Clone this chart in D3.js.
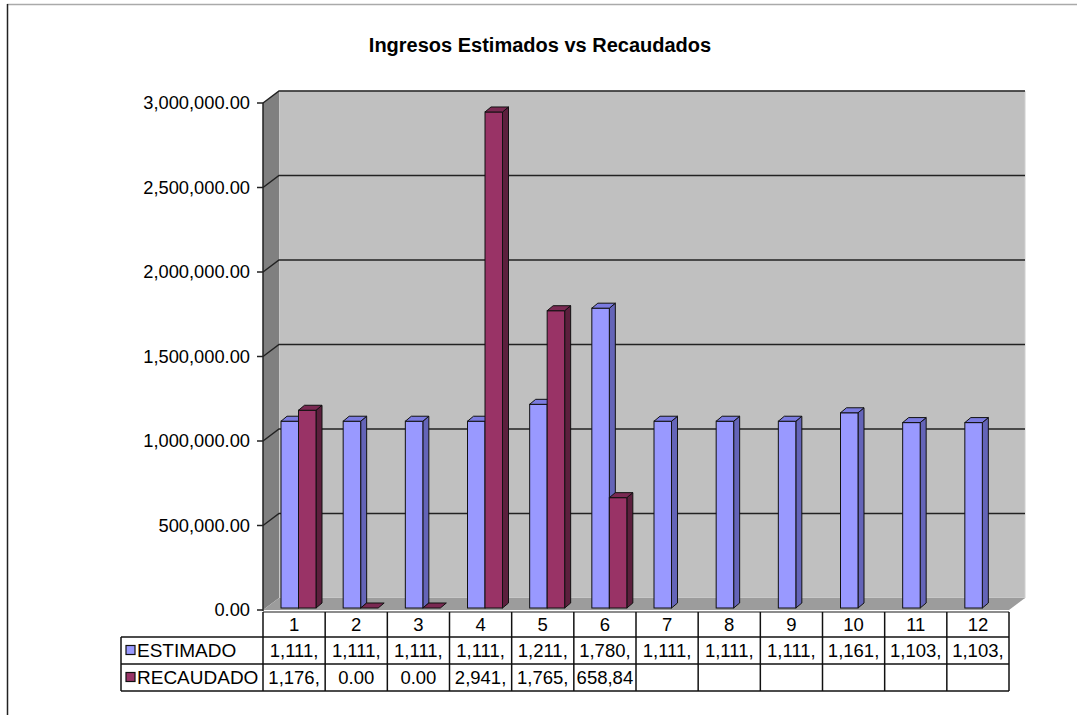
<!DOCTYPE html>
<html><head><meta charset="utf-8">
<script src="https://cdn.jsdelivr.net/npm/d3@7/dist/d3.min.js"></script>
<style>body{margin:0;background:#fff}svg{display:block;font-family:"Liberation Sans",Arial,sans-serif}</style>
</head><body><svg id="c" width="1077" height="715"></svg>
<script>
const title = "Ingresos Estimados vs Recaudados";
const categories = ["1","2","3","4","5","6","7","8","9","10","11","12"];
const seriesNames = ["ESTIMADO","RECAUDADO"];
const estimado = [1111111,1111111,1111111,1111111,1211111,1780000,1111111,1111111,1111111,1161111,1103000,1103000];
const recaudado = [1176000,0,0,2941000,1765000,658840,null,null,null,null,null,null];
const yTicks = [0,500000,1000000,1500000,2000000,2500000,3000000];
const frontColors = ["#9999FF","#993366"];
const topColors = ["#7b7be0","#7a2952"];
const sideColors = ["#6464b8","#5c1f3d"];

const svg = d3.select("#c");
const left = 263, right = 1009, y0 = 610, yTop = 103;
const DX = 16, DY = -12;     // wall depth
const bdx = 6, bdy = -5;     // bar depth
const x = d3.scaleBand().domain(categories).range([left, right]).paddingInner(0).paddingOuter(0);
const y = d3.scaleLinear().domain([0,3000000]).range([y0, yTop]);
const fmt = d3.format(",.2f");

// page border
svg.append("line").attr("x1",7).attr("x2",1077).attr("y1",4.5).attr("y2",4.5).attr("stroke","#aaa").attr("stroke-width",1.5);
svg.append("line").attr("x1",7.5).attr("x2",7.5).attr("y1",4).attr("y2",715).attr("stroke","#222").attr("stroke-width",1.5);

// title
svg.append("text").attr("x",540).attr("y",52).attr("text-anchor","middle")
  .attr("font-weight","bold").attr("font-size",20).text(title);

// walls
const pts = a => a.map(p=>p.join(",")).join(" ");
svg.append("polygon").attr("points", pts([[left+DX,y(3000000)+DY],[right+DX,y(3000000)+DY],[right+DX,y0+DY],[left+DX,y0+DY]]))
  .attr("fill","#c0c0c0").attr("stroke","#d0d0d0").attr("stroke-width",1);
svg.append("polygon").attr("points", pts([[left,y(3000000)],[left+DX,y(3000000)+DY],[left+DX,y0+DY],[left,y0]]))
  .attr("fill","#808080");
// gridlines
yTicks.filter(t=>t>0).forEach(t=>{
  const yy = y(t);
  svg.append("polyline").attr("points", pts([[left,yy],[left+DX,yy+DY],[right+DX,yy+DY]]))
    .attr("fill","none").attr("stroke","#222").attr("stroke-width",1.5);
});
// floor
svg.append("polygon").attr("points", pts([[left,y0],[left+DX,y0+DY],[right+DX,y0+DY],[right,y0]]))
  .attr("fill","#9c9c9c");

// axis
svg.append("line").attr("x1",left).attr("x2",left).attr("y1",y(3000000)).attr("y2",y0+1).attr("stroke","#222").attr("stroke-width",1.5);
yTicks.forEach(t=>{
  svg.append("line").attr("x1",left-6).attr("x2",left).attr("y1",y(t)).attr("y2",y(t)).attr("stroke","#222").attr("stroke-width",1.5);
  svg.append("text").attr("x",250).attr("y",y(t)).attr("dy","0.35em").attr("text-anchor","end")
    .attr("font-size",18.3).text(fmt(t));
});

// bars
const bw = x.bandwidth();
const barW = 17.5, barOff = 18;
const base = y0 - 2;
function bar(g, xl, v, s){
  const yt = v===0 ? base : Math.min(y(v) - 1, base);
  const xr = xl + barW;
  if (v > 0) {
    g.append("polygon").attr("points", pts([[xr,yt],[xr+bdx,yt+bdy],[xr+bdx,base+bdy],[xr,base]]))
      .attr("fill", sideColors[s]).attr("stroke","#111").attr("stroke-width",1);
    g.append("rect").attr("x",xl).attr("y",yt).attr("width",barW).attr("height",base-yt)
      .attr("fill", frontColors[s]).attr("stroke","#111").attr("stroke-width",1);
  }
  g.append("polygon").attr("points", pts([[xl,yt],[xl+bdx,yt+bdy],[xr+bdx,yt+bdy],[xr,yt]]))
    .attr("fill", topColors[s]).attr("stroke","#111").attr("stroke-width",1);
}
const gb = svg.append("g");
categories.forEach((c,i)=>{
  const xl = x(c) + barOff;
  [estimado[i], recaudado[i]].forEach((v,s)=>{
    if (v===null || v===undefined) return;
    bar(gb, xl + s*barW, v, s);
  });
});

// data table
const rowTop = [612, 637, 664, 691];
const legL = 121;
const tg = svg.append("g").attr("stroke","#111").attr("stroke-width",1.5);
tg.append("line").attr("x1",left).attr("x2",right).attr("y1",rowTop[0]).attr("y2",rowTop[0]).attr("stroke","#666");
tg.append("line").attr("x1",legL).attr("x2",right).attr("y1",rowTop[1]).attr("y2",rowTop[1]);
tg.append("line").attr("x1",legL).attr("x2",right).attr("y1",rowTop[2]).attr("y2",rowTop[2]);
tg.append("line").attr("x1",legL).attr("x2",right).attr("y1",rowTop[3]).attr("y2",rowTop[3]);
tg.append("line").attr("x1",legL).attr("x2",legL).attr("y1",rowTop[1]).attr("y2",rowTop[3]);
categories.forEach((c,i)=>{
  tg.append("line").attr("x1",x(c)).attr("x2",x(c)).attr("y1",rowTop[0]).attr("y2",rowTop[3]);
});
tg.append("line").attr("x1",right).attr("x2",right).attr("y1",rowTop[0]).attr("y2",rowTop[3]);

categories.forEach((c,i)=>{
  const cx = x(c) + bw/2;
  svg.append("text").attr("x",cx).attr("y",(rowTop[0]+rowTop[1])/2).attr("dy","0.36em")
    .attr("text-anchor","middle").attr("font-size",18.5).text(c);
  [estimado[i], recaudado[i]].forEach((v,s)=>{
    if (v===null || v===undefined) return;
    svg.append("text").attr("x",cx).attr("y",(rowTop[s+1]+rowTop[s+2])/2).attr("dy","0.36em")
      .attr("text-anchor","middle").attr("font-size",18.5).text(fmt(v).slice(0,6));
  });
});
seriesNames.forEach((n,s)=>{
  const cy = (rowTop[s+1]+rowTop[s+2])/2;
  svg.append("rect").attr("x",126).attr("y",cy-5).attr("width",9).attr("height",9)
    .attr("fill",frontColors[s]).attr("stroke","#111").attr("stroke-width",1.2);
  svg.append("text").attr("x",137).attr("y",cy).attr("dy","0.36em").attr("font-size",19).text(n);
});
</script></body></html>
